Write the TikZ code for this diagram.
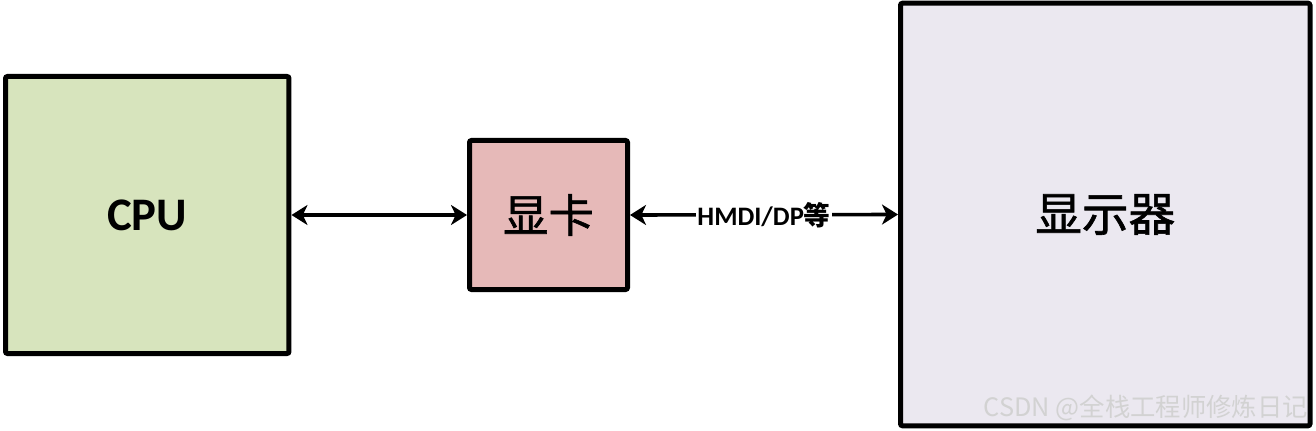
\documentclass[tikz,border=0pt]{standalone}
\usepackage{fontspec}
\setmainfont{Carlito}
\newfontfamily\cjk{Noto Sans CJK SC}
\newfontfamily\cjkm{Noto Sans CJK SC}[FakeBold=1.3]
\usetikzlibrary{arrows.meta}
\definecolor{cpufill}{HTML}{D7E4BD}
\definecolor{gpufill}{HTML}{E6B9B8}
\definecolor{monfill}{HTML}{EBE8F0}
\definecolor{wmark}{HTML}{D2D2D2}
\tikzset{
  box/.style={draw=black, line width=3.75pt, rounded corners=1.5pt, inner sep=0pt},
  link/.style={line width=2.7pt, {Stealth[length=12pt,width=15pt,inset=3.5pt]}-{Stealth[length=12pt,width=15pt,inset=3.5pt]}},
}
\begin{document}
\begin{tikzpicture}[x=0.75pt,y=-0.75pt]
\useasboundingbox (0,0) rectangle (1316,431);
\node[box, fill=cpufill, minimum width=212.6pt, minimum height=207.75pt] (cpu) at (147.25,215)
  {\fontsize{35pt}{40pt}\selectfont\bfseries CPU};
\node[box, fill=gpufill, minimum width=118.5pt, minimum height=111.75pt] (gpu) at (548.5,215)
  {\fontsize{34pt}{40pt}\selectfont\cjkm 显卡};
\node[box, fill=monfill, minimum width=307.1pt, minimum height=316.9pt] (mon) at (1105.25,214.5)
  {\fontsize{35pt}{40pt}\selectfont\cjkm 显示器};
\draw[link] (cpu.east) -- (gpu.west);
\draw[link] (gpu.east) -- node[fill=white, inner sep=1pt] (lbl)
  {\fontsize{20pt}{24pt}\selectfont\bfseries HMDI/DP{\cjk\bfseries 等}} (mon.west);
\node[text=wmark, anchor=east, inner sep=0pt] (wm) at (1308,408)
  {\fontsize{19pt}{22pt}\selectfont\cjk CSDN @全栈工程师修炼日记};
\end{tikzpicture}
\end{document}
